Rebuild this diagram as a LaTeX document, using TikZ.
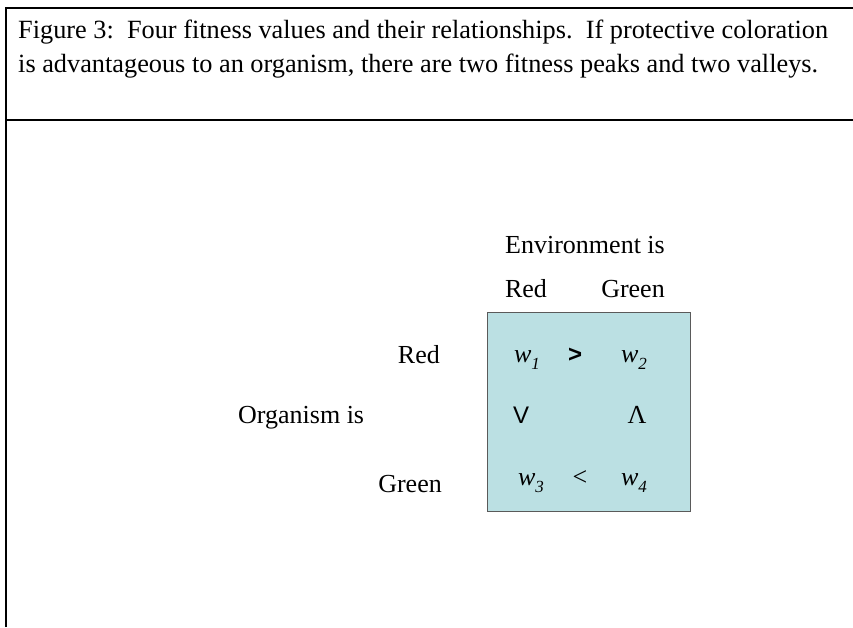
\documentclass[tikz,border=0pt]{standalone}
\usepackage{fontspec}
\setmainfont{Liberation Serif}
\newfontfamily\arialf{Liberation Sans}
\definecolor{boxfill}{RGB}{187,224,227}
\definecolor{boxline}{RGB}{90,90,90}
\begin{document}
\begin{tikzpicture}[x=1pt,y=-1pt,
  hdr/.style={font=\fontsize{26.3}{30}\selectfont, inner sep=0pt},
  lbl/.style={font=\fontsize{26}{30}\selectfont, inner sep=0pt},
  sym/.style={font=\arialf\fontsize{24}{28}\selectfont, inner sep=0pt},
  frame/.style={line width=2.2pt, black}]
\useasboundingbox (0,0) rectangle (853,627);
\coordinate (tl) at (6,8);
\coordinate (tr) at (853,8);
\coordinate (bl) at (6,627);
\coordinate (rl) at (6,120);
\coordinate (rr) at (853,120);
\draw[frame] (bl) -- (tl) -- (tr);
\draw[line width=1.5pt] (rl) -- (rr);
\node[hdr, anchor=base west] (h1) at (18,38) {Figure 3:\ \ Four fitness values and their relationships.\ \ If protective coloration};
\node[hdr, anchor=base west] (h2) at (18,72) {is advantageous to an organism, there are two fitness peaks and two valleys.};
\node[draw=boxline, line width=0.8pt, fill=boxfill, minimum width=203pt, minimum height=199pt, anchor=north west, inner sep=0pt] (box) at (487,312) {};
\node[lbl, anchor=base] (env) at (585,253) {Environment is};
\node[lbl, anchor=base] (er) at (526,297) {Red};
\node[lbl, anchor=base] (eg) at (633,297) {Green};
\node[lbl, anchor=base east] (or) at (440,363) {Red};
\node[lbl, anchor=base west] (org) at (238,423) {Organism is};
\node[lbl, anchor=base east] (og) at (442,492) {Green};
\node[lbl, anchor=base] (w1) at (527,362) {\textit{w}\raisebox{-0.3em}{\fontsize{17}{20}\selectfont\textit{1}}};
\node[sym, anchor=base] (gt) at (575,362) {\textbf{>}};
\node[lbl, anchor=base] (w2) at (634,362) {\textit{w}\raisebox{-0.3em}{\fontsize{17}{20}\selectfont\textit{2}}};
\node[sym, anchor=base] (vv) at (521,423) {V};
\node[lbl, anchor=base] (ll) at (637,423) {Λ};
\node[lbl, anchor=base] (w3) at (531,485) {\textit{w}\raisebox{-0.3em}{\fontsize{17}{20}\selectfont\textit{3}}};
\node[lbl, anchor=base] (lt) at (580,485) {<};
\node[lbl, anchor=base] (w4) at (634,485) {\textit{w}\raisebox{-0.3em}{\fontsize{17}{20}\selectfont\textit{4}}};
\end{tikzpicture}
\end{document}
